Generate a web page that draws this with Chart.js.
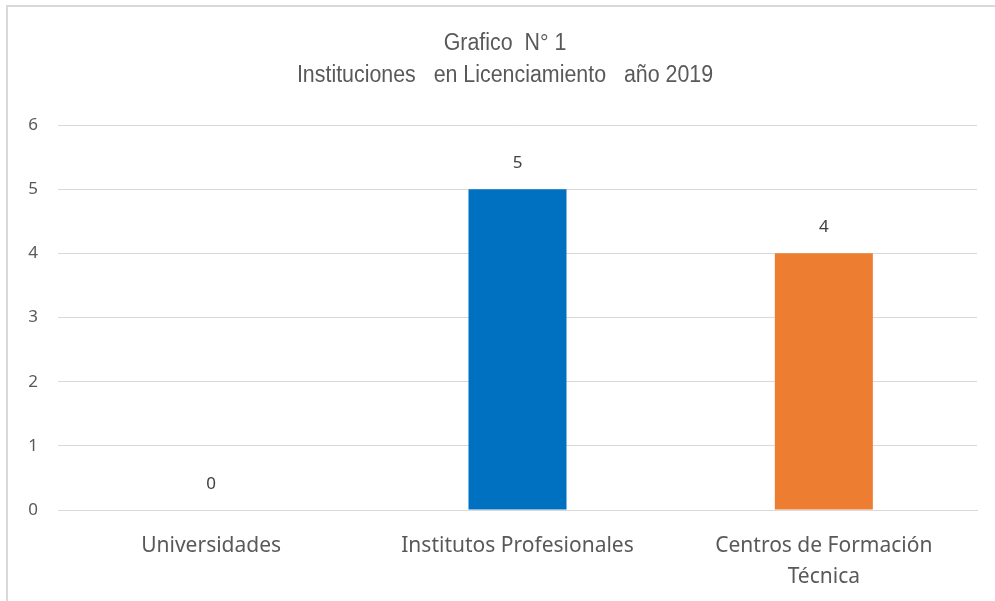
<!DOCTYPE html>
<html>
<head>
<meta charset="utf-8">
<script src="https://cdn.jsdelivr.net/npm/chart.js@4.4.1/dist/chart.umd.min.js"></script>
<style>
    html, body { margin: 0; padding: 0; background: #fff; overflow: hidden; }
    #wrap { position: relative; width: 995px; height: 601px; }
    #frame { position: absolute; left: 6px; top: 5px; width: 1000px; height: 700px; border-left: 2px solid #d9d9d9; border-top: 2px solid #d9d9d9; box-sizing: border-box; }
    #chart { position: absolute; left: 0; top: 0; }
</style>
</head>
<body>
<div id="wrap">
    <div id="frame"></div>
    <canvas id="chart" width="995" height="601"></canvas>
</div>
<script>
// 圖表資料
const categories = ['Universidades', 'Institutos Profesionales', ['Centros de Formación', 'Técnica']];
const values = [0, 5, 4];
const barColors = ['#A5A5A5', '#0070C0', '#ED7D31'];
const yTicks = [0, 1, 2, 3, 4, 5, 6];
const titleLines = ['Grafico  N° 1', 'Instituciones   en Licenciamiento   año 2019'];

const textColor = '#595959';
const labelFont = "'Noto Sans', sans-serif";
const titleFont = "'Liberation Sans', Arial, sans-serif";

// 標題（窄體效果）與數值標籤
const extraText = {
    id: 'extraText',
    afterDatasetsDraw(chart) {
        const ctx = chart.ctx;
        ctx.save();
        ctx.fillStyle = textColor;
        ctx.textAlign = 'center';
        ctx.textBaseline = 'middle';
        ctx.font = '23px ' + titleFont;
        ctx.save();
        ctx.translate(505, 0);
        ctx.scale(0.93, 1);
        ctx.fillText(titleLines[0], 0, 44);
        ctx.fillText(titleLines[1], 0, 76);
        ctx.restore();

        ctx.fillStyle = '#404040';
        ctx.font = '17px ' + labelFont;
        const meta = chart.getDatasetMeta(0);
        meta.data.forEach((bar, i) => {
            ctx.fillText(String(values[i]), bar.x, bar.y - 26);
        });
        ctx.restore();
    }
};

new Chart(document.getElementById('chart').getContext('2d'), {
    type: 'bar',
    data: {
        labels: categories,
        datasets: [{
            data: values,
            backgroundColor: barColors,
            borderWidth: 0,
            barPercentage: 0.32,
            categoryPercentage: 1
        }]
    },
    options: {
        responsive: false,
        animation: false,
        devicePixelRatio: 1,
        layout: { padding: { left: 0, right: 18, top: 125, bottom: 0 } },
        plugins: {
            legend: { display: false },
            title: { display: false },
            tooltip: { enabled: false }
        },
        scales: {
            x: {
                afterFit: (s) => { s.height = 91; },
                grid: { display: false, drawTicks: false },
                border: { color: '#d9d9d9', width: 1 },
                ticks: {
                    color: textColor,
                    padding: 20,
                    maxRotation: 0,
                    font: { family: labelFont, size: 21, lineHeight: 1.48 }
                }
            },
            y: {
                min: 0,
                max: 6,
                afterFit: (s) => { s.width = 58; },
                afterBuildTicks: (s) => { s.ticks = yTicks.map(v => ({ value: v })); },
                grid: { color: '#d9d9d9', lineWidth: 1, drawTicks: false },
                border: { display: false },
                ticks: {
                    color: textColor,
                    padding: 20,
                    font: { family: labelFont, size: 17 }
                }
            }
        }
    },
    plugins: [extraText]
});
</script>
</body>
</html>
